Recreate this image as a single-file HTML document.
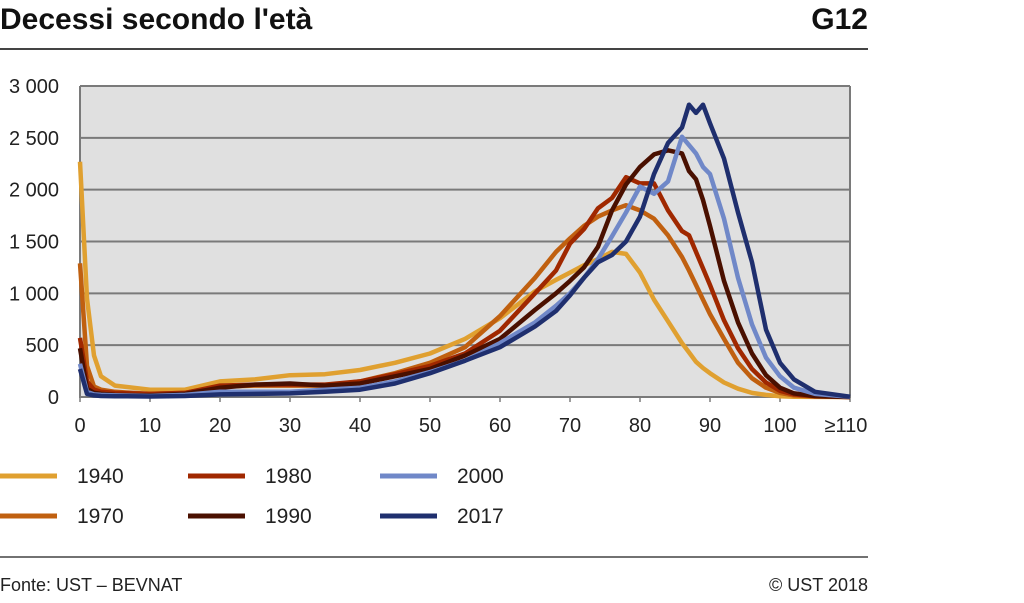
<!DOCTYPE html>
<html><head><meta charset="utf-8"><style>
body{margin:0;background:#fff;font-family:"Liberation Sans",sans-serif;}
svg text{font-family:"Liberation Sans",sans-serif;}
</style></head><body>
<svg width="1024" height="598" viewBox="0 0 1024 598">
<text x="0" y="29" font-size="30" font-weight="bold" fill="#111">Decessi secondo l'età</text>
<text x="868" y="29" font-size="30" font-weight="bold" fill="#111" text-anchor="end">G12</text>
<line x1="0" y1="49" x2="868" y2="49" stroke="#444" stroke-width="2"/>
<rect x="80" y="86" width="770" height="311" fill="#e0e0e0"/>
<g id="grid"></g><g id="axes"></g><g id="series"></g><g id="legend"></g>
<line x1="0" y1="557" x2="868" y2="557" stroke="#444" stroke-width="1.5"/>
<text x="0" y="591" font-size="18" fill="#222">Fonte: UST – BEVNAT</text>
<text x="868" y="591" font-size="18" fill="#222" text-anchor="end">© UST 2018</text>
</svg>
<script>
const ages=[0,1,2,3,5,10,15,20,25,30,35,40,45,50,55,60,65,68,70,72,74,76,78,80,82,84,86,87,88,89,90,92,94,96,98,100,102,105,110];
const s1940=[2270,950,400,200,110,70,70,150,170,210,220,260,330,420,560,760,1020,1130,1200,1270,1330,1400,1380,1200,940,730,520,430,340,280,230,140,80,40,20,8,3,1,0];
const s1970=[1290,300,100,70,50,30,40,100,110,110,110,150,230,330,480,780,1150,1400,1530,1650,1740,1800,1850,1800,1720,1560,1350,1220,1080,940,800,560,330,180,90,40,15,5,0];
const s1980=[570,150,70,50,40,30,40,110,120,120,120,150,220,300,420,640,1000,1220,1480,1620,1820,1920,2120,2060,2060,1800,1600,1560,1400,1240,1080,740,470,270,140,60,25,8,0];
const s1990=[470,80,40,30,20,15,30,90,120,130,110,130,200,270,400,560,840,1000,1120,1250,1450,1800,2050,2220,2340,2380,2350,2180,2100,1900,1650,1120,720,420,210,90,35,10,0];
const s2000=[320,50,25,20,15,10,20,50,50,50,70,90,150,240,350,520,720,880,1000,1150,1330,1550,1780,2030,1960,2080,2510,2430,2350,2220,2150,1720,1150,700,380,200,90,30,3];
const s2017=[270,30,15,10,8,5,10,25,30,35,50,70,130,230,350,480,680,830,980,1150,1300,1370,1500,1740,2150,2450,2600,2820,2740,2820,2640,2300,1780,1300,650,330,170,50,3];
const seriesNames=["1940","1970","1980","1990","2000","2017"];
const yTicks=[0,500,1000,1500,2000,2500,3000];
const yTickLabels=["0","500","1 000","1 500","2 000","2 500","3 000"];
const xTicks=[0,10,20,30,40,50,60,70,80,90,100,110];
const xTickLabels=["0","10","20","30","40","50","60","70","80","90","100","≥110"];
const NS="http://www.w3.org/2000/svg";
const X=a=>80+a*7, Y=v=>397-v*0.10367;
function mk(t,at,p){const e=document.createElementNS(NS,t);for(const k in at)e.setAttribute(k,at[k]);p.appendChild(e);return e;}
const grid=document.getElementById('grid'),axes=document.getElementById('axes'),ser=document.getElementById('series'),leg=document.getElementById('legend');
yTicks.forEach((v,i)=>{
  if(v>0){const l=mk('line',{x1:80,x2:850,y1:Y(v),y2:Y(v),stroke:'#7a7a7a','stroke-width':2},grid);
  
  }
  const t=mk('text',{x:59,y:Y(v)+7,'font-size':20,fill:'#222','text-anchor':'end'},axes);t.textContent=yTickLabels[i];
  
  
});
const al=mk('path',{d:'M80 86V397H850V86',fill:'none',stroke:'#7a7a7a','stroke-width':2},axes);


xTicks.forEach((a,i)=>{
  const tk=mk('line',{x1:X(a),x2:X(a),y1:397,y2:402,stroke:'#7a7a7a','stroke-width':1.5},axes);
  
  
  const t=mk('text',{x:X(a)+(i==11?-4:0),y:432,'font-size':20,fill:'#222','text-anchor':'middle'},axes);t.textContent=xTickLabels[i];
  
  
});
const data=[s1940,s1970,s1980,s1990,s2000,s2017];
const colors=['#e0a030','#c06010','#a02800','#4a1000','#7088c8','#1f2f6e'];
data.forEach((s,k)=>{
  const d=s.map((v,i)=>(i?'L':'M')+X(ages[i]).toFixed(1)+' '+Y(v).toFixed(1)).join('');
  const p=mk('path',{d:d,fill:'none',stroke:colors[k],'stroke-width':4.5,'stroke-linejoin':'round'},ser);
  
  
});
const lx=[0,0,188,188,380,380],ly=[476,516,476,516,476,516];
[0,1,2,3,4,5].forEach(k=>{
  const g=mk('g',{},leg);
  
  
  mk('line',{x1:lx[k],x2:lx[k]+57,y1:ly[k],y2:ly[k],stroke:colors[k],'stroke-width':5},g);
  const t=mk('text',{x:lx[k]+77,y:ly[k]+7,'font-size':21,fill:'#222'},g);t.textContent=seriesNames[k];
});
</script>
</body></html>
